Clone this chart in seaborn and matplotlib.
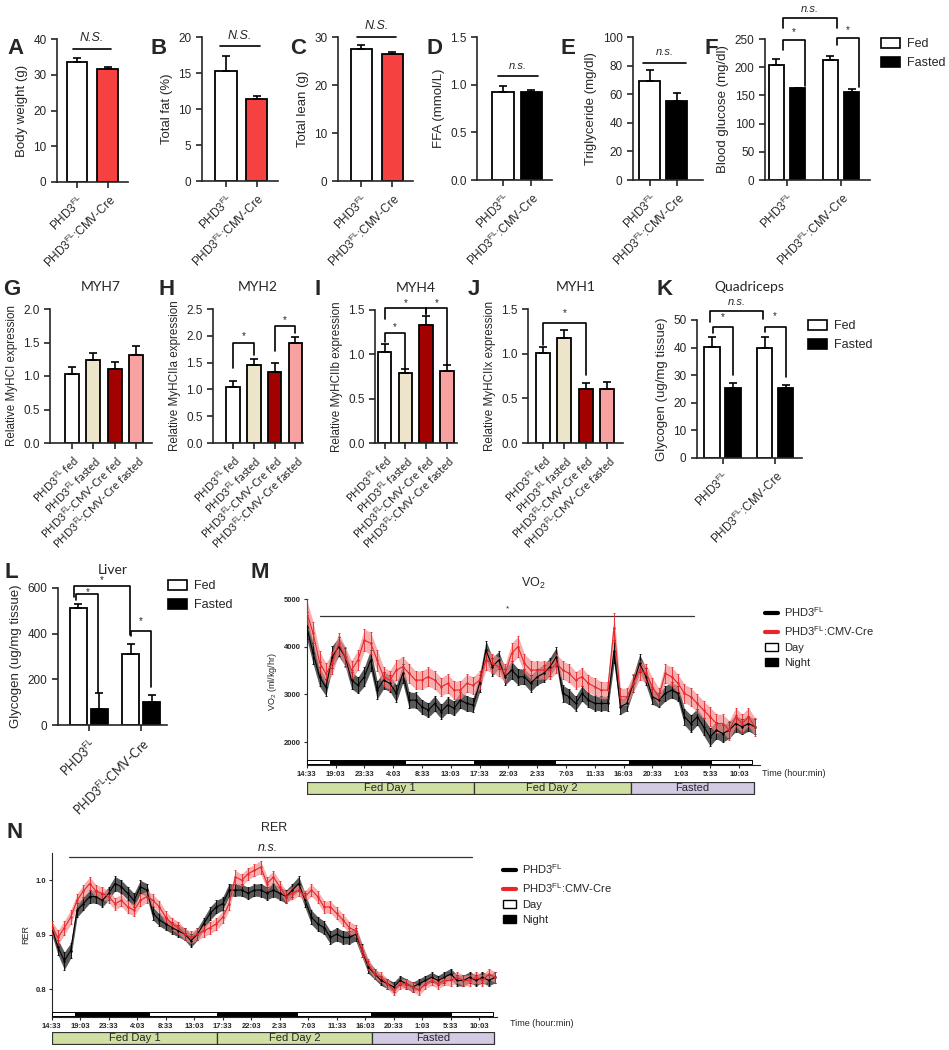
import matplotlib
matplotlib.use("Agg")
import matplotlib.pyplot as plt
from matplotlib.lines import Line2D
from matplotlib.patches import Patch
from matplotlib.ticker import FormatStrFormatter
import numpy as np
import pandas as pd
import seaborn as sns

# ---------------- data ----------------
geno = ["PHD3$^{FL}$", "PHD3$^{FL}$:CMV-Cre"]
diet = ["Fed", "Fasted"]
groups4 = ["PHD3$^{FL}$ fed", "PHD3$^{FL}$ fasted",
           "PHD3$^{FL}$:CMV-Cre fed", "PHD3$^{FL}$:CMV-Cre fasted"]

body_weight = [33.5, 31.5]
body_weight_sem = [1.3, 0.7]
total_fat = [15.3, 11.4]
total_fat_sem = [2.1, 0.4]
total_lean = [27.6, 26.4]
total_lean_sem = [0.7, 0.5]
ffa = [0.92, 0.92]
ffa_sem = [0.07, 0.02]
triglyceride = [69.0, 55.5]
triglyceride_sem = [8.0, 5.0]

# order: FL fed, FL fasted, Cre fed, Cre fasted
glucose = [204, 162.5, 212.8, 155.5]
glucose_sem = [10.5, 1.5, 7.0, 5.3]
quad_glycogen = [40.3, 25.3, 40.0, 25.3]
quad_glycogen_sem = [3.6, 1.8, 4.0, 1.1]
liver_glycogen = [511, 70, 309, 102]
liver_glycogen_sem = [17, 70, 44, 29]

myh7 = [1.03, 1.24, 1.11, 1.32]
myh7_sem = [0.10, 0.11, 0.10, 0.13]
myh2 = [1.05, 1.45, 1.33, 1.87]
myh2_sem = [0.11, 0.12, 0.16, 0.11]
myh4 = [1.03, 0.79, 1.33, 0.81]
myh4_sem = [0.09, 0.04, 0.10, 0.07]
myh1 = [1.01, 1.17, 0.60, 0.60]
myh1_sem = [0.06, 0.10, 0.07, 0.08]

# indirect calorimetry, hourly from 14:33
hours = np.arange(71)
vo2_black = [4420, 3860, 3370, 3150, 3790, 4000, 3790, 3300, 3190, 3370,
             3720, 3090, 3300, 3230, 3020, 3440, 2880, 2880, 2740, 2670,
             2810, 2640, 2780, 2710, 2880, 2810, 2780, 3230, 3930, 3580,
             3720, 3370, 3510, 3370, 3370, 3230, 3370, 3440, 3580, 3790,
             3020, 2950, 2810, 3020, 2880, 2810, 2810, 2810, 3900, 2740,
             2810, 3230, 3650, 3370, 2950, 2880, 3020, 3090, 3020, 2530,
             2390, 2530, 2320, 2110, 2250, 2180, 2250, 2390, 2320, 2390,
             2320]
vo2_black_sem = [250, 220, 200, 180, 230, 200, 190, 180, 170, 200,
                 220, 190, 180, 170, 180, 200, 170, 160, 150, 150,
                 160, 150, 160, 150, 170, 160, 150, 180, 200, 190,
                 180, 170, 180, 170, 160, 170, 170, 180, 190, 200,
                 170, 160, 150, 160, 150, 150, 150, 150, 250, 160,
                 150, 170, 190, 180, 160, 150, 160, 160, 160, 170,
                 180, 170, 180, 190, 180, 180, 170, 170, 160, 160,
                 160]
vo2_red = [4730, 4280, 3680, 3430, 3650, 4070, 3790, 3510, 3720, 4140,
           4070, 3720, 3370, 3300, 3510, 3580, 3440, 3300, 3300, 3370,
           3300, 3160, 3230, 3090, 3090, 3230, 3190, 3300, 3720, 3650,
           3580, 3440, 3860, 4000, 3650, 3510, 3510, 3510, 3510, 3650,
           3510, 3440, 3300, 3370, 3230, 3160, 3090, 3090, 4400, 2950,
           2950, 3230, 3510, 3440, 3160, 2950, 3440, 3370, 3230, 3020,
           2950, 2810, 2670, 2530, 2390, 2390, 2250, 2530, 2390, 2530,
           2320]
vo2_red_sem = [260, 240, 230, 220, 230, 220, 210, 200, 210, 230,
               230, 220, 200, 200, 210, 210, 200, 190, 190, 200,
               190, 190, 200, 190, 190, 190, 180, 190, 210, 200,
               200, 190, 210, 220, 200, 200, 190, 190, 190, 200,
               190, 190, 180, 190, 180, 180, 180, 180, 300, 180,
               180, 190, 200, 190, 190, 180, 200, 200, 190, 190,
               190, 190, 190, 200, 200, 190, 200, 190, 190, 190,
               190]
rer_black = [.913, .877, .852, .871, .945, .957, .970, .970, .963, .976,
             .994, .988, .976, .963, .988, .982, .939, .927, .920, .913,
             .907, .901, .889, .901, .920, .939, .951, .957, .982, .982,
             .982, .976, .982, .982, .976, .982, .976, .970, .982, .994,
             .963, .932, .920, .913, .895, .901, .895, .895, .901, .871,
             .840, .828, .816, .810, .804, .816, .810, .804, .810, .816,
             .822, .816, .822, .828, .816, .816, .822, .816, .822, .816,
             .822]
rer_black_sem = [.012, .014, .016, .014, .013, .012, .012, .012, .012, .012,
                 .013, .012, .012, .013, .012, .012, .012, .011, .011, .011,
                 .011, .011, .012, .011, .011, .012, .012, .012, .012, .011,
                 .011, .011, .011, .012, .012, .012, .012, .012, .012, .013,
                 .013, .013, .013, .012, .012, .012, .012, .012, .012, .012,
                 .011, .010, .009, .009, .009, .009, .009, .009, .009, .009,
                 .009, .009, .010, .010, .010, .010, .010, .010, .010, .010,
                 .010]
rer_red = [.913, .895, .913, .932, .963, .980, .994, .980, .976, .970,
           .957, .963, .951, .945, .963, .970, .963, .951, .932, .920,
           .913, .901, .895, .901, .907, .913, .920, .932, .957, 1.006,
           1.000, 1.012, 1.018, 1.024, .994, 1.006, .988, .970, .976, .982,
           .970, .982, .970, .951, .951, .939, .927, .913, .907, .871,
           .846, .828, .822, .810, .798, .810, .810, .804, .798, .810,
           .816, .810, .816, .816, .822, .816, .816, .822, .816, .828,
           .822]
rer_red_sem = [.012, .013, .013, .013, .012, .012, .012, .012, .011, .011,
               .011, .011, .011, .011, .011, .011, .011, .011, .011, .011,
               .011, .011, .011, .011, .011, .011, .011, .011, .012, .012,
               .011, .011, .011, .012, .012, .011, .011, .011, .011, .011,
               .011, .011, .011, .011, .011, .011, .011, .011, .011, .011,
               .010, .009, .009, .009, .009, .009, .009, .009, .009, .009,
               .009, .009, .009, .010, .010, .010, .010, .010, .010, .010,
               .010]

tick_hours = [0, 4.5, 9, 13.5, 18, 22.5, 27, 31.5, 36, 40.5, 45, 49.5, 54, 58.5, 63, 67.5]
tick_times = ["14:33", "19:03", "23:33", "4:03", "8:33", "13:03", "17:33", "22:03",
              "2:33", "7:03", "11:33", "16:03", "20:33", "1:03", "5:33", "10:03"]
light_dark_edges = [0, 3.6, 15.4, 26.1, 38.8, 50.4, 63.1, 69.6]
phase_edges = [0, 26.1, 50.6, 69.8]
phase_names = ["Fed Day 1", "Fed Day 2", "Fasted"]

# ---------------- style ----------------
sns.set_style("ticks")
plt.rcParams["font.family"] = ["Liberation Sans", "DejaVu Sans"]
plt.rcParams["mathtext.fontset"] = "custom"
plt.rcParams["mathtext.rm"] = "Liberation Sans"
plt.rcParams["mathtext.it"] = "Liberation Sans:italic"
plt.rcParams["mathtext.bf"] = "Liberation Sans:bold"
plt.rcParams["mathtext.default"] = "regular"
plt.rcParams["axes.linewidth"] = 1.2
plt.rcParams["xtick.major.width"] = 1.2
plt.rcParams["ytick.major.width"] = 1.2
plt.rcParams["xtick.major.size"] = 4
plt.rcParams["ytick.major.size"] = 4
plt.rcParams["xtick.labelsize"] = 8.5
plt.rcParams["ytick.labelsize"] = 8.5

CAL = ["Lato", "DejaVu Sans"]
RED = "#f64141"
BEIGE = "#ede5c9"
DARKRED = "#a30000"
PINK = "#f7a1a1"

W, H = 949, 1050
fig = plt.figure(figsize=(W / 100, H / 100), dpi=100)


def panel(x0, y0, x1, y1):
    return fig.add_axes([x0 / W, 1 - y1 / H, (x1 - x0) / W, (y1 - y0) / H])


def add_errors(ax, vals, sems):
    ps = sorted(ax.patches, key=lambda p: p.get_x())
    xs = [p.get_x() + p.get_width() / 2 for p in ps]
    ax.errorbar(xs, vals, yerr=[np.zeros(len(vals)), sems], fmt="none",
                ecolor="black", elinewidth=1.2, capsize=3, capthick=1.2, zorder=1)


def simple_bars(ax, labels, vals, sems, colors, width, xlim, ylim, yticks, ylabel,
                fmt=None, font=None, lsize=8.5, ysize=9.5):
    df = pd.DataFrame({"g": labels, "v": vals})
    sns.barplot(data=df, x="g", y="v", hue="g", palette=colors, width=width,
                saturation=1, edgecolor="black", linewidth=1.3, errorbar=None,
                legend=False, ax=ax)
    add_errors(ax, vals, sems)
    ax.set_xlim(*xlim)
    ax.set_ylim(*ylim)
    ax.set_yticks(yticks)
    if fmt:
        ax.yaxis.set_major_formatter(FormatStrFormatter(fmt))
    ax.set_ylabel(ylabel, fontsize=ysize)
    ax.set_xlabel("")
    ax.set_xticks(range(len(labels)))
    kw = {"family": font} if font else {}
    ax.set_xticklabels(labels, rotation=45, ha="right", rotation_mode="anchor",
                       fontsize=lsize, **kw)
    sns.despine(ax=ax)


def grouped_bars(ax, vals, sems, gap, xlim, ylim, yticks, ylabel, lsize=8.5, font=None):
    df = pd.DataFrame({"geno": [geno[0], geno[0], geno[1], geno[1]],
                       "diet": diet * 2, "v": vals})
    sns.barplot(data=df, x="geno", y="v", hue="diet", palette=["white", "black"],
                width=0.8, gap=gap, saturation=1, edgecolor="black", linewidth=1.3,
                errorbar=None, legend=False, ax=ax)
    add_errors(ax, vals, sems)
    ax.set_xlim(*xlim)
    ax.set_ylim(*ylim)
    ax.set_yticks(yticks)
    ax.set_ylabel(ylabel, fontsize=9.5)
    ax.set_xlabel("")
    ax.set_xticks([0, 1])
    kw = {"family": font} if font else {}
    ax.set_xticklabels(geno, rotation=45, ha="right", rotation_mode="anchor",
                       fontsize=lsize, **kw)
    sns.despine(ax=ax)


def bracket(ax, xa, xb, top, ya, yb, label, ty, size=7, style="normal"):
    ax.plot([xa, xa, xb, xb], [ya, top, top, yb], color="black", lw=1.2, clip_on=False)
    ax.text((xa + xb) / 2, ty, label, ha="center", va="center", fontsize=size,
            style=style, clip_on=False)


def ns_line(ax, xa, xb, y, label, ty, size=9):
    ax.plot([xa, xb], [y, y], color="black", lw=1.2, clip_on=False)
    ax.text((xa + xb) / 2, ty, label, ha="center", va="center", fontsize=size,
            style="italic", clip_on=False)


def letter(x, y, s):
    fig.text(x / W, 1 - y / H, s, fontsize=16, fontweight="bold", va="top", ha="left")


def diet_legend(x, y):
    handles = [Patch(facecolor="white", edgecolor="black", lw=1.2),
               Patch(facecolor="black", edgecolor="black", lw=1.2)]
    fig.legend(handles, diet, loc="upper left", bbox_to_anchor=(x / W, 1 - y / H),
               frameon=False, fontsize=9, handlelength=1.5, handleheight=0.8,
               labelspacing=0.55, handletextpad=0.6, borderaxespad=0, borderpad=0)


# ---------------- row 1 ----------------
ax = panel(57, 39, 128, 182)
simple_bars(ax, geno, body_weight, body_weight_sem, ["white", RED], 0.68,
            (-0.65, 1.66), (0, 40), [0, 10, 20, 30, 40], "Body weight (g)")
ns_line(ax, -0.14, 1.12, 37.1, "N.S.", 40.3)

ax = panel(202, 37, 278, 181)
simple_bars(ax, geno, total_fat, total_fat_sem, ["white", RED], 0.7,
            (-0.77, 1.69), (0, 20), [0, 5, 10, 15, 20], "Total fat (%)")
ns_line(ax, -0.19, 1.1, 18.75, "N.S.", 20.1)

ax = panel(338, 37, 413, 181)
simple_bars(ax, geno, total_lean, total_lean_sem, ["white", RED], 0.68,
            (-0.75, 1.67), (0, 30), [0, 10, 20, 30], "Total lean (g)")
ns_line(ax, -0.13, 1.13, 30.1, "N.S.", 32.2)

ax = panel(477, 37, 552, 180)
simple_bars(ax, geno, ffa, ffa_sem, ["white", "black"], 0.76,
            (-0.92, 1.73), (0, 1.5), [0, 0.5, 1.0, 1.5], "FFA (mmol/L)", fmt="%.1f")
ns_line(ax, -0.17, 1.25, 1.09, "n.s.", 1.2, size=8)

ax = panel(633, 37, 703, 180)
simple_bars(ax, geno, triglyceride, triglyceride_sem, ["white", "black"], 0.77,
            (-0.62, 1.97), (0, 100), [0, 20, 40, 60, 80, 100], "Triglyceride (mg/dl)")
ns_line(ax, -0.24, 1.34, 82, "n.s.", 89.7, size=8)

ax = panel(765, 39, 870, 180)
grouped_bars(ax, glucose, glucose_sem, 0.3, (-0.41, 1.54), (0, 250),
             [0, 50, 100, 150, 200, 250], "Blood glucose (mg/dl)")
bracket(ax, -0.07, 0.93, 286.7, 269, 269, "n.s.", 304, size=8, style="italic")
bracket(ax, -0.07, 0.33, 248, 230, 166, "*", 263)
bracket(ax, 0.93, 1.33, 251, 239, 165, "*", 266)
diet_legend(881, 38)

# ---------------- row 2 ----------------
fourcols = ["white", BEIGE, DARKRED, PINK]
specs = [
    ((50, 309, 152, 443), myh7, myh7_sem, (-1.0, 3.72), (0, 2.0), [0, 0.5, 1.0, 1.5, 2.0],
     "Relative MyHCI expression", "MYH7"),
    ((213, 309, 303, 443), myh2, myh2_sem, (-0.95, 3.36), (0, 2.5), [0, 0.5, 1.0, 1.5, 2.0, 2.5],
     "Relative MyHCIIa expression", "MYH2"),
    ((375, 310, 457, 443), myh4, myh4_sem, (-0.47, 3.49), (0, 1.5), [0, 0.5, 1.0, 1.5],
     "Relative MyHCIIb expression", "MYH4"),
    ((528, 309, 623, 443), myh1, myh1_sem, (-0.7, 3.74), (0, 1.5), [0, 0.5, 1.0, 1.5],
     "Relative MyHCIIx expression", "MYH1"),
]
row2 = []
for box, vals, sems, xl, yl, yt, lab, title in specs:
    ax = panel(*box)
    simple_bars(ax, groups4, vals, sems, fourcols, 0.65, xl, yl, yt, lab,
                fmt="%.1f", font=CAL, lsize=8, ysize=8.4)
    ax.set_title(title, fontsize=10, family=CAL, pad=13)
    row2.append(ax)

ax = row2[1]
bracket(ax, 0, 1, 1.866, 1.40, 1.65, "*", 1.99)
bracket(ax, 2, 3, 2.18, 1.71, 2.05, "*", 2.30)
ax = row2[2]
bracket(ax, 0, 2, 1.52, 1.395, 1.46, "*", 1.575)
bracket(ax, 0, 1, 1.245, 1.14, 0.84, "*", 1.31)
bracket(ax, 2, 3, 1.52, 1.46, 0.88, "*", 1.575)
ax = row2[3]
bracket(ax, 0, 2, 1.346, 1.10, 0.76, "*", 1.455)

ax = panel(697, 320, 802, 458)
grouped_bars(ax, quad_glycogen, quad_glycogen_sem, 0.26, (-0.486, 1.51), (0, 50),
             [0, 10, 20, 30, 40, 50], "Glycogen (ug/mg tissue)")
ax.set_title("Quadriceps", fontsize=10, family=CAL, pad=21)
bracket(ax, -0.23, 0.77, 53.4, 49.4, 50.5, "n.s.", 56.6, size=8, style="italic")
bracket(ax, -0.19, 0.19, 47.3, 45.2, 30.1, "*", 51)
bracket(ax, 0.8, 1.2, 47.3, 45.8, 29.5, "*", 51.3)
diet_legend(808, 320)

# ---------------- row 3: liver ----------------
ax = panel(58, 588, 167, 725)
grouped_bars(ax, liver_glycogen, liver_glycogen_sem, 0.2, (-0.59, 1.49), (0, 600),
             [0, 200, 400, 600], "Glycogen (ug/mg tissue)", lsize=9, font=CAL)
ax.set_title("Liver", fontsize=10, family=CAL, pad=10)
bracket(ax, -0.29, 0.775, 610, 562, 394, "*", 635)
bracket(ax, -0.24, 0.18, 572, 547, 146, "*", 581)
bracket(ax, 0.80, 1.19, 413, 390, 168, "*", 453)
diet_legend(168, 580)


# ---------------- time courses ----------------
def time_panel(box, strip, black, black_sem, red, red_sem, xmax, ylim, yticks, ylab,
               ytickfmt, daybar):
    ax = panel(*box)
    for mean, sem, lc, bc, al in [(black, black_sem, "black", "#3c3c3c", 0.85),
                                  (red, red_sem, "#e8262b", "#f28a8a", 0.7)]:
        mean = np.asarray(mean)
        sem = np.asarray(sem)
        ax.fill_between(hours, mean - sem, mean + sem, color=bc, lw=0, alpha=al, zorder=2)
        ax.errorbar(hours, mean, yerr=sem, fmt="none", ecolor=lc, elinewidth=0.6,
                    capsize=0.8, capthick=0.6, zorder=3)
        sns.lineplot(x=hours, y=mean, color=lc, lw=0.8, marker="o", markersize=1.8,
                     markeredgewidth=0, ax=ax, zorder=4)
    # light / dark bar
    segs = list(zip(light_dark_edges[:-1], np.diff(light_dark_edges)))
    ax.broken_barh(segs[0::2], daybar, facecolor="white", edgecolor="black", lw=0.7, zorder=5)
    ax.broken_barh(segs[1::2], daybar, facecolor="black", edgecolor="black", lw=0.7, zorder=5)
    ax.set_xlim(0, xmax)
    ax.set_ylim(*ylim)
    ax.set_yticks(yticks)
    ax.set_yticklabels([ytickfmt % v for v in yticks], fontsize=5.5, fontweight="bold")
    ax.set_xticks(tick_hours)
    ax.set_xticklabels(tick_times, fontsize=5.5, fontweight="bold")
    ax.tick_params(length=2.5, width=0.8, pad=1.5)
    for s in ["left", "bottom"]:
        ax.spines[s].set_linewidth(0.8)
    ax.set_ylabel(ylab, fontsize=6.5, labelpad=4)
    ax.set_xlabel("")
    sns.despine(ax=ax)
    # feeding phases
    bx = panel(*strip)
    pcol = ["#cfe0a2", "#cfe0a2", "#d3cae3"]
    for i, name in enumerate(phase_names):
        a, b = phase_edges[i], phase_edges[i + 1]
        bx.broken_barh([(a, b - a)], (0, 1), facecolor=pcol[i], edgecolor="#333333", lw=0.9)
        bx.text((a + b) / 2, 0.5, name, ha="center", va="center", fontsize=8)
    bx.set_xlim(0, xmax)
    bx.set_ylim(0, 1)
    bx.axis("off")
    return ax


def calor_legend(x, y):
    handles = [Line2D([0], [0], color="black", lw=3),
               Line2D([0], [0], color="#e8262b", lw=3),
               Patch(facecolor="white", edgecolor="black", lw=1),
               Patch(facecolor="black", edgecolor="black", lw=1)]
    labels = ["PHD3$^{FL}$", "PHD3$^{FL}$:CMV-Cre", "Day", "Night"]
    fig.legend(handles, labels, loc="upper left", bbox_to_anchor=(x / W, 1 - y / H),
               frameon=False, fontsize=8, handlelength=1.2, handleheight=0.7,
               labelspacing=0.45, handletextpad=0.5, borderaxespad=0, borderpad=0)


ax = time_panel((306.7, 599, 760, 765), (306.7, 782, 760, 794),
                vo2_black, vo2_black_sem, vo2_red, vo2_red_sem, 70.8,
                (1520, 5000), [2000, 3000, 4000, 5000], "VO$_2$ (ml/kg/hr)", "%d",
                (1545, 80))
ax.set_title("VO$_2$", fontsize=9, pad=9)
ax.plot([2.1, 60.5], [4641, 4641], color="#333333", lw=0.9, clip_on=False)
ax.text(31.3, 4790, "*", ha="center", va="center", fontsize=6)
fig.text(762 / W, 1 - 773 / H, "Time (hour:min)", fontsize=6.5, va="center")
calor_legend(765, 605)

ax = time_panel((51.7, 853, 497, 1017), (51.7, 1032, 497, 1044),
                rer_black, rer_black_sem, rer_red, rer_red_sem, 70.3,
                (0.749, 1.05), [0.8, 0.9, 1.0], "RER", "%.1f",
                (0.7505, 0.0075))
ax.set_title("RER", fontsize=9, pad=16)
ax.plot([2.7, 66.3], [1.042, 1.042], color="#333333", lw=0.9, clip_on=False)
ax.text(34.1, 1.059, "n.s.", ha="center", va="center", fontsize=9, style="italic")
fig.text(510 / W, 1 - 1023 / H, "Time (hour:min)", fontsize=6.5, va="center")
calor_legend(503, 862)

# ---------------- panel letters ----------------
for x, y, s in [(7, 38, "A"), (150, 38, "B"), (290, 38, "C"), (427, 38, "D"),
                (560, 38, "E"), (705, 38, "F"), (3, 279, "G"), (158, 279, "H"),
                (315, 279, "I"), (468, 279, "J"), (657, 279, "K"), (5, 562, "L"),
                (251, 562, "M"), (6, 822, "N")]:
    letter(x, y, s)

fig.savefig("out.png", dpi=100)
